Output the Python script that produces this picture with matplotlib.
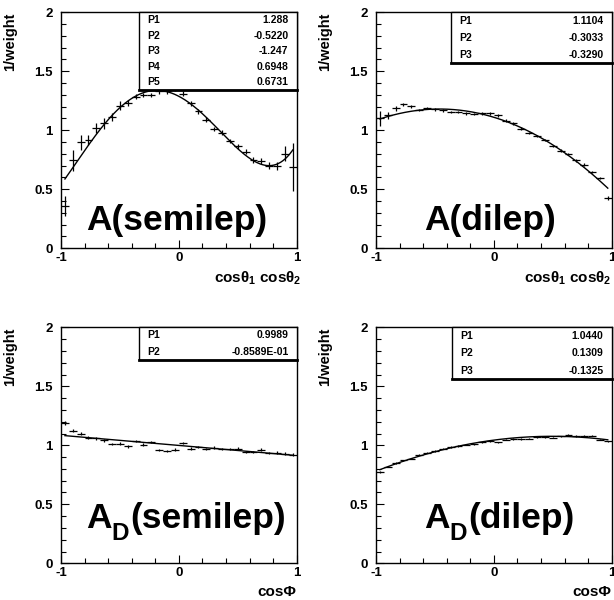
import numpy as np
import matplotlib
matplotlib.use('Agg')
import matplotlib.pyplot as plt
from matplotlib.patches import Rectangle

plt.rcParams['font.family'] = ['Liberation Sans', 'DejaVu Sans']
plt.rcParams['font.weight'] = 'bold'
plt.rcParams['mathtext.fontset'] = 'custom'
plt.rcParams['mathtext.rm'] = 'Liberation Sans:bold'
plt.rcParams['mathtext.it'] = 'Liberation Sans:bold'
plt.rcParams['mathtext.bf'] = 'Liberation Sans:bold'
plt.rcParams['mathtext.default'] = 'rm'

# 30 bins from -1 to 1 in every panel
nbins = 30

# A(semilep) : 1/weight vs cos(theta1)cos(theta2)
a_semi = [0.36, 0.745, 0.90, 0.92, 1.02, 1.06, 1.11, 1.21, 1.23, 1.285,
          1.30, 1.30, 1.33, 1.33, 1.355, 1.31, 1.23, 1.16, 1.09, 1.01,
          0.98, 0.91, 0.865, 0.82, 0.75, 0.74, 0.70, 0.70, 0.80, 0.69]
a_semi_err = [0.085, 0.09, 0.064, 0.043, 0.043, 0.045, 0.035, 0.035, 0.025, 0.02,
              0.02, 0.02, 0.02, 0.02, 0.02, 0.02, 0.02, 0.02, 0.02, 0.02,
              0.02, 0.02, 0.02, 0.02, 0.025, 0.025, 0.03, 0.035, 0.064, 0.205]
a_semi_par = [1.288, -0.5220, -1.247, 0.6948, 0.6731]
a_semi_txt = ['1.288', '-0.5220', '-1.247', '0.6948', '0.6731']

# A(dilep)
a_dil = [1.10, 1.126, 1.185, 1.22, 1.205, 1.17, 1.19, 1.177, 1.168, 1.154,
         1.154, 1.143, 1.14, 1.143, 1.143, 1.126, 1.083, 1.058, 1.015, 0.979,
         0.95, 0.916, 0.865, 0.828, 0.80, 0.745, 0.709, 0.644, 0.596, 0.425]
a_dil_err = [0.065, 0.03, 0.02, 0.015, 0.012, 0.01, 0.01, 0.01, 0.01, 0.01,
             0.01, 0.01, 0.01, 0.01, 0.01, 0.01, 0.01, 0.01, 0.01, 0.01,
             0.01, 0.01, 0.01, 0.01, 0.01, 0.01, 0.01, 0.01, 0.012, 0.015]
a_dil_par = [1.1104, -0.3033, -0.3290]
a_dil_txt = ['1.1104', '-0.3033', '-0.3290']

# A_D(semilep) : 1/weight vs cos(Phi)
ad_semi = [1.189, 1.124, 1.099, 1.065, 1.059, 1.042, 1.011, 1.014, 0.991, 1.034,
           1.006, 1.028, 0.96, 0.952, 0.964, 1.017, 0.972, 0.986, 0.966, 0.98,
           0.966, 0.966, 0.972, 0.943, 0.943, 0.964, 0.935, 0.938, 0.93, 0.921]
ad_semi_err = [0.015] + [0.01] * 29
ad_semi_par = [0.9989, -0.08589]
ad_semi_txt = ['0.9989', '-0.8589E-01']

# A_D(dilep)
ad_dil = [0.774, 0.817, 0.85, 0.873, 0.888, 0.921, 0.938, 0.952, 0.972, 0.986,
          0.994, 1.006, 1.008, 1.025, 1.034, 1.025, 1.048, 1.053, 1.053, 1.057,
          1.07, 1.068, 1.065, 1.076, 1.087, 1.079, 1.079, 1.082, 1.048, 1.034]
ad_dil_err = [0.005] * 30
ad_dil_par = [1.0440, 0.1309, -0.1325]
ad_dil_txt = ['1.0440', '0.1309', '-0.1325']

edges = np.linspace(-1, 1, nbins + 1)
centers = 0.5 * (edges[1:] + edges[:-1])
hw = 0.5 * (edges[1] - edges[0])

fig = plt.figure(figsize=(6.14, 6.0), dpi=100)
W, H = 614.0, 600.0


def panel(left_px, top_px, y, yerr, pars, partxt, box, xlabel, xlab_x, label, lab_x, lab_y):
    ax = fig.add_axes([left_px / W, 1 - (top_px + 236) / H, 235.7 / W, 236 / H])
    ax.errorbar(centers, y, xerr=hw, yerr=yerr, fmt='none', ecolor='k', elinewidth=0.9, capsize=0)
    xx = np.linspace(centers[0], centers[-1], 300)
    ax.plot(xx, np.polyval(pars[::-1], xx), 'k-', lw=1.0)
    ax.set_xlim(-1, 1)
    ax.set_ylim(0, 2)
    ax.set_xticks([-1, 0, 1])
    ax.set_xticklabels(['-1', '0', '1'])
    ax.set_xticks(np.linspace(-1, 1, 11), minor=True)
    ax.set_yticks([0, 0.5, 1, 1.5, 2])
    ax.set_yticklabels(['0', '0.5', '1', '1.5', '2'])
    ax.set_yticks(np.linspace(0, 2, 21), minor=True)
    ax.tick_params(which='both', direction='in', top=False, right=False, labelsize=9.5, width=0.8)
    ax.tick_params(axis='x', which='major', length=6, pad=3)
    ax.tick_params(axis='x', which='minor', length=3.5)
    ax.tick_params(axis='y', which='major', length=6, pad=6)
    ax.tick_params(axis='y', which='minor', length=3.5)
    for s in ax.spines.values():
        s.set_linewidth(1.0)
    ax.set_ylabel('1/weight', loc='top', fontsize=10.5, fontweight='bold')
    ax.yaxis.set_label_coords(-0.187, 1.0)
    ax.set_xlabel(xlabel, loc='right', fontsize=11, fontweight='bold')
    ax.xaxis.set_label_coords(xlab_x, -0.09)

    # big label, optional subscript after the first letter
    main, sub, rest = label
    if sub is None:
        ax.text(lab_x, lab_y, main + rest, transform=ax.transAxes, fontsize=25.5,
                fontweight='bold', va='baseline', ha='left')
    else:
        tA = ax.text(lab_x, lab_y, main, transform=ax.transAxes, fontsize=25.5,
                     fontweight='bold', va='baseline', ha='left')
        tD = ax.annotate(sub, xy=(1, lab_y), xycoords=(tA, 'axes fraction'),
                         xytext=(0, -8.6), textcoords='offset points', fontsize=17.5,
                         fontweight='bold', va='baseline', ha='left')
        ax.annotate(rest, xy=(1, lab_y), xycoords=(tD, 'axes fraction'),
                    xytext=(0.8, 0), textcoords='offset points', fontsize=25.5,
                    fontweight='bold', va='baseline', ha='left')

    # fit parameter box
    bx, by = box
    ax.add_patch(Rectangle((bx, by), 1 - bx, 1 - by, transform=ax.transAxes, fc='white',
                           ec='k', lw=1.0, zorder=5, clip_on=False))
    ax.plot([bx, 1], [by, by], color='k', lw=2.0, transform=ax.transAxes, zorder=6, clip_on=False)
    n = len(partxt)
    rowh = (1 - by) / n
    for i in range(n):
        yy = 1 - (i + 0.5) * rowh
        ax.text(bx + 0.035, yy, 'P%d' % (i + 1), transform=ax.transAxes, fontsize=7.5,
                fontweight='bold', va='center', ha='left', zorder=7)
        ax.text(0.965, yy, partxt[i], transform=ax.transAxes, fontsize=7.5,
                fontweight='bold', va='center', ha='right', zorder=7)
    return ax


panel(61, 12.3, a_semi, a_semi_err, a_semi_par, a_semi_txt, (0.332, 0.671),
      r'cosθ$_1$ cosθ$_2$', 1.02, ('A', None, '(semilep)'), 0.106, 0.078)
panel(376, 12.3, a_dil, a_dil_err, a_dil_par, a_dil_txt, (0.318, 0.784),
      r'cosθ$_1$ cosθ$_2$', 1.0, ('A', None, '(dilep)'), 0.204, 0.078)
panel(61, 327.3, ad_semi, ad_semi_err, ad_semi_par, ad_semi_txt, (0.331, 0.862),
      'cosΦ', 1.0, ('A', 'D', '(semilep)'), 0.106, 0.149)
panel(376, 327.3, ad_dil, ad_dil_err, ad_dil_par, ad_dil_txt, (0.321, 0.779),
      'cosΦ', 1.0, ('A', 'D', '(dilep)'), 0.204, 0.149)

fig.savefig('out.png', dpi=100)
